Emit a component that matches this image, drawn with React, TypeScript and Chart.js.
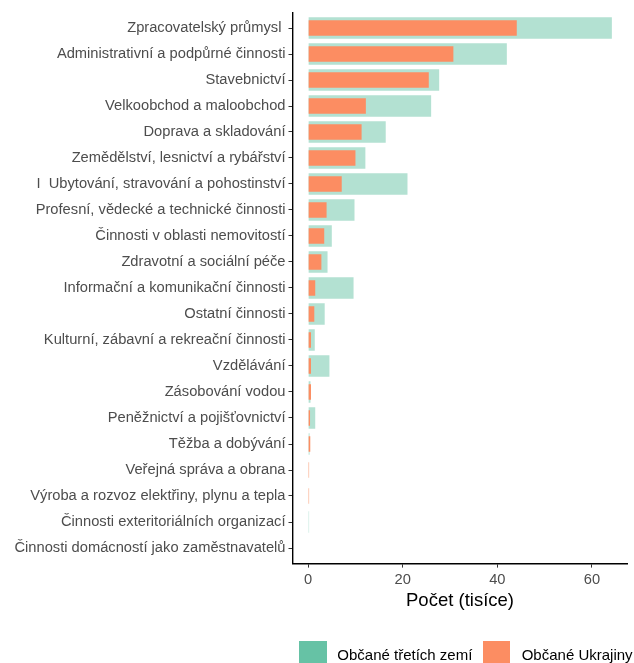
import React, { useEffect, useRef } from "react";
import { Chart, registerables } from "chart.js";

Chart.register(...registerables);

const categories = [
  "Zpracovatelský průmysl ",
  "Administrativní a podpůrné činnosti",
  "Stavebnictví",
  "Velkoobchod a maloobchod",
  "Doprava a skladování",
  "Zemědělství, lesnictví a rybářství",
  "I  Ubytování, stravování a pohostinství",
  "Profesní, vědecké a technické činnosti",
  "Činnosti v oblasti nemovitostí",
  "Zdravotní a sociální péče",
  "Informační a komunikační činnosti",
  "Ostatní činnosti",
  "Kulturní, zábavní a rekreační činnosti",
  "Vzdělávání",
  "Zásobování vodou",
  "Peněžnictví a pojišťovnictví",
  "Těžba a dobývání",
  "Veřejná správa a obrana",
  "Výroba a rozvoz elektřiny, plynu a tepla",
  "Činnosti exteritoriálních organizací",
  "Činnosti domácností jako zaměstnavatelů",
];

const thirdCountries = [
  64.2, 42.0, 27.7, 26.0, 16.4, 12.1, 21.0, 9.8, 5.0, 4.1, 9.6, 3.5, 1.4, 4.5,
  0.5, 1.5, 0.3, 0.1, 0.1, 0.2, 0,
];

const ukraine = [
  44.1, 30.7, 25.5, 12.2, 11.3, 10.0, 7.1, 3.9, 3.4, 2.8, 1.5, 1.3, 0.6, 0.6,
  0.6, 0.4, 0.45, 0.2, 0.2, 0, 0,
];

const xTicks = [0, 20, 40, 60];

const seriesLabels = ["Občané třetích zemí", "Občané Ukrajiny"];
const legendColors = ["#66c2a5", "#fc8d62"];

const FONT = "'Liberation Sans', Arial, Helvetica, sans-serif";

export default function App() {
  const ref = useRef<HTMLCanvasElement>(null);

  useEffect(() => {
    const tickFont = { family: FONT, size: 14.7 };
    const chart = new Chart(ref.current!, {
      type: "bar",
      data: {
        datasets: [
          {
            label: seriesLabels[1],
            data: ukraine.map((v, i) => ({ x: v, y: i })),
            backgroundColor: "#fc8d62",
            borderWidth: 0,
            inflateAmount: 0,
            barThickness: 15.3,
            grouped: false,
          } as any,
          {
            label: seriesLabels[0],
            data: thirdCountries.map((v, i) => ({ x: v, y: i })),
            backgroundColor: "rgb(179,225,210)",
            borderWidth: 0,
            inflateAmount: 0,
            barThickness: 21.4,
            grouped: false,
          } as any,
        ],
      },
      options: {
        indexAxis: "y",
        responsive: false,
        animation: false,
        layout: { padding: { top: 12.4, right: 7, bottom: 0, left: 0 } },
        plugins: {
          legend: { display: false },
          tooltip: { enabled: false },
        },
        scales: {
          x: {
            type: "linear",
            min: -3.2,
            max: 67.4,
            offset: false,
            afterBuildTicks: (s: any) => {
              s.ticks = xTicks.map((v) => ({ value: v }));
            },
            afterFit: (s: any) => {
              s.height = 99.4;
            },
            grid: {
              display: true,
              offset: false,
              drawOnChartArea: false,
              tickLength: 4,
              tickColor: "#333333",
              tickWidth: 1,
            },
            border: { display: true, color: "#000000", width: 1.4 },
            ticks: {
              font: tickFont,
              color: "#4d4d4d",
              padding: 3.5,
              maxRotation: 0,
              autoSkip: false,
            },
            title: {
              display: true,
              text: "Počet (tisíce)",
              font: { family: FONT, size: 18.5 },
              color: "#000000",
              padding: { top: 0, bottom: 51.2 },
            },
          },
          y: {
            type: "linear",
            reverse: true,
            min: -0.6,
            max: 20.6,
            offset: false,
            afterBuildTicks: (s: any) => {
              s.ticks = categories.map((_, i) => ({ value: i }));
            },
            afterFit: (s: any) => {
              s.width = 293;
            },
            grid: {
              display: true,
              offset: false,
              drawOnChartArea: false,
              tickLength: 4.5,
              tickColor: "#333333",
              tickWidth: 1,
            },
            border: { display: true, color: "#000000", width: 1.4 },
            ticks: {
              font: tickFont,
              color: "#4d4d4d",
              padding: 3,
              autoSkip: false,
              callback: (v: any) => categories[v as number] ?? "",
            },
          },
        },
      },
    });
    return () => chart.destroy();
  }, []);

  const textStyle: React.CSSProperties = {
    position: "absolute",
    top: 647,
    fontFamily: FONT,
    fontSize: 15,
    lineHeight: "15px",
    color: "#000",
    whiteSpace: "nowrap",
  };

  return (
    <div
      style={{
        position: "absolute",
        left: 0,
        top: 0,
        width: 634,
        height: 663,
        overflow: "hidden",
        background: "#fff",
      }}
    >
      <canvas ref={ref} width={634} height={663} style={{ display: "block" }} />
      <div style={{ position: "absolute", left: 299, top: 641, width: 28, height: 28, background: legendColors[0] }} />
      <span style={{ ...textStyle, left: 337.3 }}>{seriesLabels[0]}</span>
      <div style={{ position: "absolute", left: 483.3, top: 641, width: 27, height: 28, background: legendColors[1] }} />
      <span style={{ ...textStyle, left: 521.7 }}>{seriesLabels[1]}</span>
    </div>
  );
}
